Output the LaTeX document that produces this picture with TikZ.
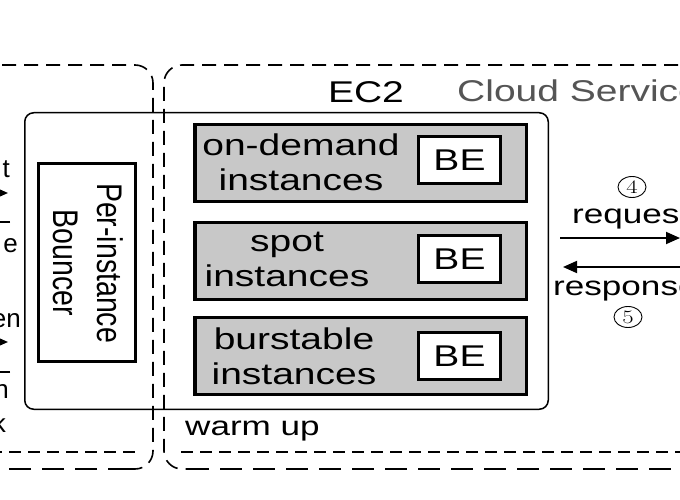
\documentclass[tikz,border=0pt]{standalone}
\usepackage{fontspec}
\usepackage{graphicx}
\usetikzlibrary{arrows.meta,shapes.geometric}
\newfontfamily\widesf[FakeStretch=1.3]{Liberation Sans}
\newfontfamily\plainsf{Liberation Sans}
\definecolor{boxgray}{RGB}{200,200,200}
\definecolor{cloudgray}{RGB}{85,85,85}
\begin{document}
\begin{tikzpicture}[x=1pt,y=-1pt,
  dashA/.style={line width=1.6pt, dash pattern=on 14pt off 8pt},
  dashB/.style={line width=1.6pt, dash pattern=on 22pt off 11pt},
  dashC/.style={line width=1.4pt, dash pattern=on 12pt off 7pt},
  lbl/.style={inner sep=0pt, font=\widesf\fontsize{30}{35}\selectfont},
  smalllbl/.style={inner sep=0pt, font=\widesf\fontsize{27}{32}\selectfont},
  lft/.style={inner sep=0pt, font=\plainsf\fontsize{26}{30}\selectfont},
  graybox/.style={draw, line width=3.5pt, fill=boxgray, minimum width=331.5pt, minimum height=77pt, inner sep=0pt},
  bebox/.style={draw, line width=3pt, fill=white, minimum width=82pt, minimum height=47pt, inner sep=0pt, font=\widesf\fontsize{30}{30}\selectfont},
  circnum/.style={shape=ellipse, draw, line width=0.9pt, minimum width=28pt, minimum height=21pt, inner sep=0pt, font=\rmfamily\fontsize{19}{19}\selectfont},
  arr/.style={line width=1.8pt, -{Triangle[length=14pt,width=12pt]}}
]
\useasboundingbox (0,0) rectangle (680,500);
\fill[white] (0,0) rectangle (680,500);

% dashed outer boxes
\draw[dashA, rounded corners=18pt] (-20,65) -- (153,65) -- (153,469) -- (130,469);
\draw[dashB] (130,469) -- (-20,469);
\draw[dashA, rounded corners=18pt] (700,65) -- (164,65) -- (164,469) -- (187,469);
\draw[dashB] (187,469) -- (700,469);
\draw[dashC] (-10,452) -- (138,452);
\draw[dashC] (181,452) -- (690,452);

% EC2 container
\draw[line width=1.5pt, rounded corners=9pt] (24.75,112.75) rectangle (548.25,409.25);
\node[lbl, anchor=base] (ec2) at (366,103) {EC2};
\node[lbl, anchor=base west, text=cloudgray] (cloud) at (457,102) {Cloud Service};

% bouncer
\node[draw, line width=3pt, minimum width=97pt, minimum height=198pt, inner sep=0pt] (bouncer) at (87,262.5) {};
\node[rotate=-90, inner sep=0pt, font=\plainsf\fontsize{28.5}{35}\selectfont] (bouncertxt) at (84,263)
  {\scalebox{1}[1.25]{\begin{tabular}{@{}c@{}}Per-instance\\Bouncer\end{tabular}}};

% instance boxes
\node[graybox] (g1) at (360.5,163) {};
\node[graybox] (g2) at (360.5,261) {};
\node[graybox] (g3) at (360.5,356) {};
\node[lbl, align=center] (t1) at (301,162) {on-demand\\instances};
\node[lbl, align=center] (t2) at (287,259) {spot\\instances};
\node[lbl, align=center] (t3) at (294,356) {burstable\\instances};
\node[bebox] (be1) at (459.5,160) {BE};
\node[bebox] (be2) at (459.5,259) {BE};
\node[bebox] (be3) at (459.5,356) {BE};

\node[smalllbl, anchor=base west] (warm) at (185,435) {warm up};

% right side arrows
\coordinate (req1) at (560,238);
\coordinate (req2) at (680,238);
\coordinate (res1) at (700,267);
\coordinate (res2) at (563,267);
\draw[arr] (req1) -- (req2);
\draw[arr] (res1) -- (res2);
\node[smalllbl, anchor=base west] (reqlbl) at (572,223) {request};
\node[smalllbl, anchor=base west] (reslbl) at (553,295) {response};
\node[circnum] (c4) at (632,187) {\scalebox{1.3}[1]{4}};
\node[circnum] (c5) at (628,317) {\scalebox{1.3}[1]{5}};

% left side fragments
\node[lft, anchor=base east] (l1) at (10,178) {t};
\node[lft, anchor=base east] (l2) at (18,252) {e};
\node[lft, anchor=base east] (l3) at (21,327) {en};
\node[lft, anchor=base east] (l4) at (9,398) {n};
\node[lft, anchor=base east] (l5) at (6,432) {k};
\coordinate (la1) at (-30,193);
\coordinate (la2) at (8,193);
\coordinate (lb1) at (10,222);
\coordinate (lb2) at (-40,222);
\coordinate (lc1) at (-30,342);
\coordinate (lc2) at (8,342);
\coordinate (ld1) at (10,372);
\coordinate (ld2) at (-40,372);
\draw[arr] (la1) -- (la2);
\draw[arr] (lb1) -- (lb2);
\draw[arr] (lc1) -- (lc2);
\draw[arr] (ld1) -- (ld2);
\end{tikzpicture}
\end{document}
